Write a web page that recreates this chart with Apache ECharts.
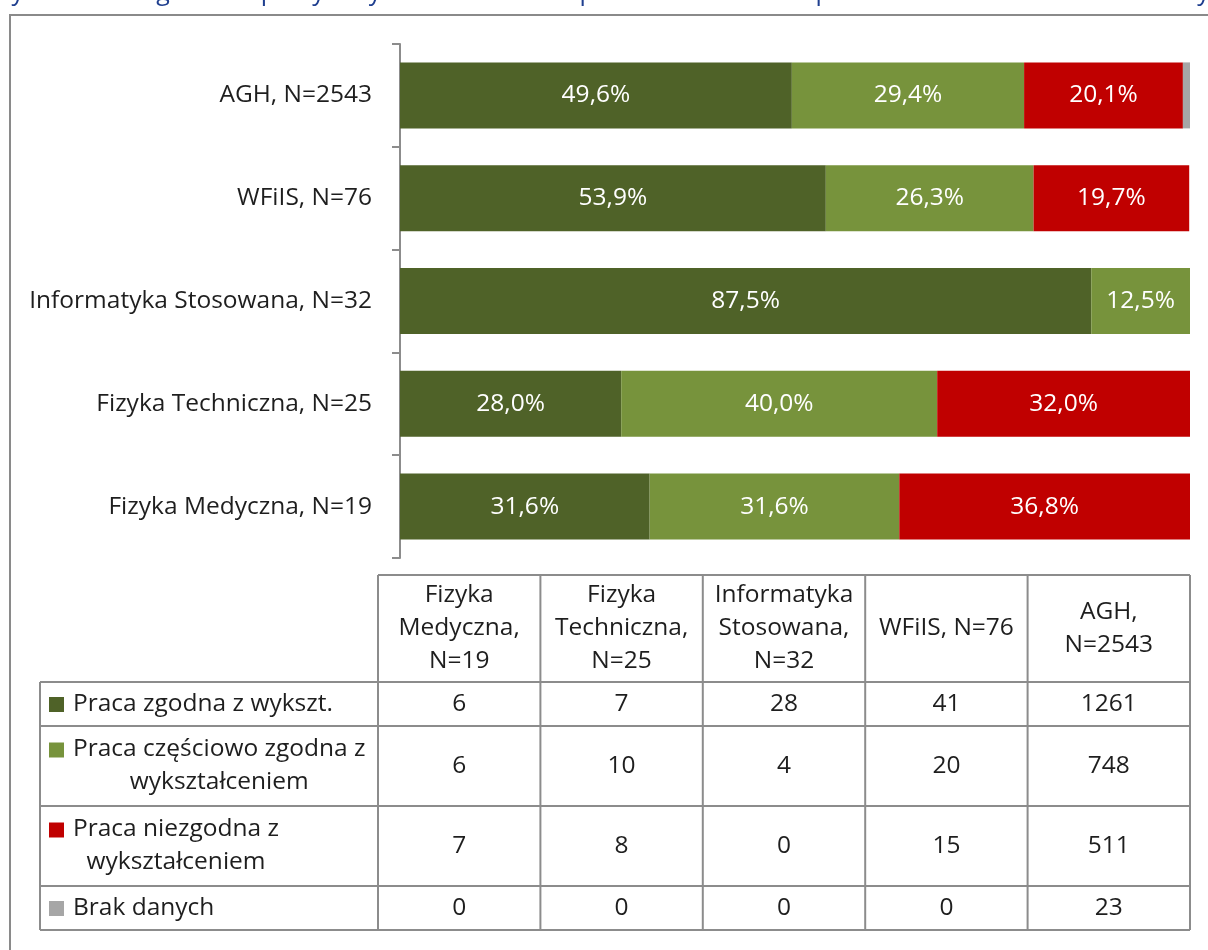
<!DOCTYPE html>
<html>
<head>
<meta charset="utf-8">
<script src="https://cdn.jsdelivr.net/npm/echarts@6/dist/echarts.min.js"></script>
<style>
html,body{margin:0;padding:0;background:#fff;}
#chart{width:1208px;height:950px;}
</style>
</head>
<body>
<div id="chart"></div>
<script>
// ---- Data ----
const titleText = 'Rysunek 10. Zgodność pracy z wykształceniem w opinii absolwentów – porównanie kierunków WFiIS z wynikami dla WFiIS i AGH, tylko pracujący';
const categories = ['Fizyka Medyczna, N=19', 'Fizyka Techniczna, N=25', 'Informatyka Stosowana, N=32', 'WFiIS, N=76', 'AGH, N=2543'];
const tableHeaders = ['Fizyka\nMedyczna,\nN=19', 'Fizyka\nTechniczna,\nN=25', 'Informatyka\nStosowana,\nN=32', 'WFiIS, N=76', 'AGH,\nN=2543'];
const seriesNames = ['Praca zgodna z wykszt.', 'Praca częściowo zgodna z wykształceniem', 'Praca niezgodna z wykształceniem', 'Brak danych'];
const tableRowLabels = ['Praca zgodna z wykszt.', 'Praca częściowo zgodna z\nwykształceniem', 'Praca niezgodna z\nwykształceniem', 'Brak danych'];
const seriesColors = ['#4F6228', '#77933C', '#C00000', '#A6A6A6'];

const pctZgodna     = [31.6, 28.0, 87.5, 53.9, 49.6];
const pctCzesciowo  = [31.6, 40.0, 12.5, 26.3, 29.4];
const pctNiezgodna  = [36.8, 32.0, 0.0, 19.7, 20.1];
const pctBrak       = [0.0, 0.0, 0.0, 0.0, 0.9];

const cntZgodna     = [6, 7, 28, 41, 1261];
const cntCzesciowo  = [6, 10, 4, 20, 748];
const cntNiezgodna  = [7, 8, 0, 15, 511];
const cntBrak       = [0, 0, 0, 0, 23];

const pctSeries = [pctZgodna, pctCzesciowo, pctNiezgodna, pctBrak];
const cntSeries = [cntZgodna, cntCzesciowo, cntNiezgodna, cntBrak];

// ---- Layout ----
const FONT = '"Open Sans", "Noto Sans", sans-serif';
const FS = 24.5;
const TXT = '#1e1e1e';
const LINE = '#8c8c8c';
const plotLeft = 400, plotRight = 1190, plotTop = 44, plotBottom = 558;
const tabLeft = 378, tabRight = 1190, legLeft = 40;
const headerTop = 575;
const rowEdges = [682, 726, 806, 886, 930];
const lineH = 33;

const chart = echarts.init(document.getElementById('chart'), null, {renderer: 'canvas'});

const series = pctSeries.map((arr, i) => ({
  name: seriesNames[i],
  type: 'bar',
  stack: 'total',
  data: arr,
  barWidth: 66,
  itemStyle: {color: seriesColors[i]},
  label: {
    show: i < 3,
    position: 'inside',
    color: '#fff',
    fontFamily: FONT,
    fontSize: FS,
    formatter: p => p.value >= 5 ? p.value.toFixed(1).replace('.', ',') + '%' : ''
  },
  emphasis: {disabled: true}
}));

// ---- Table graphics ----
const g = [];
g.push({type: 'rect', shape: {x: 10, y: 15, width: 1210, height: 950}, style: {fill: 'none', stroke: '#8a8a8a', lineWidth: 2}, silent: true});
g.push({type: 'text', x: -4, y: -7, style: {text: titleText, fill: '#1F3F8F', font: '25px ' + FONT, textAlign: 'left', textVerticalAlign: 'middle'}, silent: true});

const nCols = tableHeaders.length;
const colW = (tabRight - tabLeft) / nCols;
const lineStyle = {stroke: LINE, lineWidth: 2};
function hline(x1, x2, y) { g.push({type: 'line', shape: {x1, y1: y, x2, y2: y}, style: lineStyle, silent: true}); }
function vline(x, y1, y2) { g.push({type: 'line', shape: {x1: x, y1, x2: x, y2}, style: lineStyle, silent: true}); }

hline(tabLeft, tabRight, headerTop);
rowEdges.forEach(y => hline(legLeft, tabRight, y));
vline(legLeft, rowEdges[0], rowEdges[rowEdges.length - 1]);
for (let c = 0; c <= nCols; c++) vline(tabLeft + c * colW, headerTop, rowEdges[rowEdges.length - 1]);

tableHeaders.forEach((h, c) => {
  g.push({type: 'text', x: tabLeft + (c + 0.5) * colW, y: (headerTop + rowEdges[0]) / 2,
    style: {text: h, fill: TXT, font: FS + 'px ' + FONT, textAlign: 'center', textVerticalAlign: 'middle', lineHeight: lineH}, silent: true});
});

const mctx = document.createElement('canvas').getContext('2d');
mctx.font = FS + 'px ' + FONT;

tableRowLabels.forEach((lab, r) => {
  const yTop = rowEdges[r], yBot = rowEdges[r + 1];
  const lines = lab.split('\n');
  const cy = (yTop + yBot) / 2;
  const firstY = cy - (lines.length - 1) * lineH / 2;
  g.push({type: 'rect', shape: {x: 49, y: firstY - 7, width: 15, height: 15}, style: {fill: seriesColors[r]}, silent: true});
  const maxW = Math.max(...lines.map(l => mctx.measureText(l).width));
  g.push({type: 'text', x: 73 + maxW / 2, y: cy,
    style: {text: lab, fill: TXT, font: FS + 'px ' + FONT, textAlign: 'center', textVerticalAlign: 'middle', lineHeight: lineH}, silent: true});
  cntSeries[r].forEach((v, c) => {
    g.push({type: 'text', x: tabLeft + (c + 0.5) * colW, y: cy,
      style: {text: String(v), fill: TXT, font: FS + 'px ' + FONT, textAlign: 'center', textVerticalAlign: 'middle'}, silent: true});
  });
});

chart.setOption({
  animation: false,
  backgroundColor: '#fff',
  grid: {left: plotLeft, right: 1208 - plotRight, top: plotTop, bottom: 950 - plotBottom, containLabel: false},
  xAxis: {type: 'value', min: 0, max: 100, show: false},
  yAxis: {
    type: 'category',
    data: categories,
    axisLine: {show: true, lineStyle: {color: '#8c8c8c', width: 2}},
    axisTick: {show: true, length: 8, lineStyle: {color: '#8c8c8c', width: 2}},
    axisLabel: {color: TXT, fontFamily: FONT, fontSize: FS, margin: 28}
  },
  series: series,
  graphic: g
});
</script>
</body>
</html>
